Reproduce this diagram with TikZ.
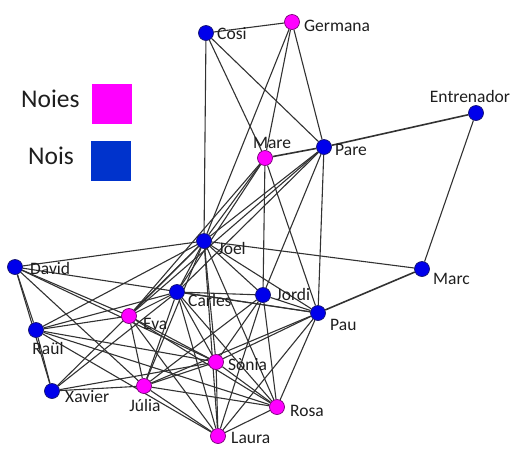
\documentclass[tikz,border=0pt]{standalone}
\usepackage{fontspec}
\setmainfont{Carlito}
\usetikzlibrary{backgrounds}
\definecolor{boy}{RGB}{0,0,235}
\definecolor{boyline}{RGB}{20,20,110}
\definecolor{girl}{RGB}{255,0,255}
\definecolor{girlline}{RGB}{120,0,120}
\definecolor{legblue}{RGB}{0,51,204}
\definecolor{edgecol}{RGB}{50,50,50}
\definecolor{txt}{RGB}{30,30,30}
\begin{document}
\begin{tikzpicture}[x=1pt,y=-1pt,
  person/.style={circle,inner sep=0pt,minimum size=15pt,line width=0.7pt},
  noi/.style={person,fill=boy,draw=boyline},
  noia/.style={person,fill=girl,draw=girlline},
  lbl/.style={text=txt,font=\fontsize{17.5}{20}\selectfont,inner sep=0pt},
  leg/.style={text=txt,font=\fontsize{25.5}{28}\selectfont,inner sep=0pt,anchor=base west},
  edge/.style={draw=edgecol,line width=1.1pt},
  strong/.style={edge,line width=1.6pt}]
\useasboundingbox (0,0) rectangle (515,448);
% legend
\node[leg] (tnoies) at (21,107) {Noies};
\node[fill=girl,minimum size=40pt,inner sep=0pt] (snoies) at (112,104) {};
\node[leg] (tnois) at (28,164) {Nois};
\node[fill=legblue,minimum size=40pt,inner sep=0pt] (snois) at (111,161) {};
% people
\node[noi]  (cosi) at (206,33) {};
\node[noia] (germana) at (292,22) {};
\node[noia] (mare) at (265,158) {};
\node[noi]  (pare) at (324,147) {};
\node[noi]  (entrenador) at (476,113) {};
\node[noi]  (joel) at (204,241) {};
\node[noi]  (david) at (15,267) {};
\node[noi]  (marc) at (422,269) {};
\node[noi]  (carles) at (177,292) {};
\node[noi]  (jordi) at (263,295) {};
\node[noi]  (pau) at (318,313) {};
\node[noia] (eva) at (129,316) {};
\node[noi]  (raul) at (36,330) {};
\node[noia] (sonia) at (216,362) {};
\node[noi]  (xavier) at (52,391) {};
\node[noia] (julia) at (144,386) {};
\node[noia] (rosa) at (277,407) {};
\node[noia] (laura) at (218,436) {};
% labels
\node[lbl,anchor=west] (lcosi) at (217,34) {Cosi};
\node[lbl,anchor=west] (lgermana) at (304,26) {Germana};
\node[lbl] (lmare) at (272,143) {Mare};
\node[lbl,anchor=west] (lpare) at (335,150) {Pare};
\node[lbl] (lentrenador) at (470,96) {Entrenador};
\node[lbl,anchor=west] (ljoel) at (218,248) {Joel};
\node[lbl,anchor=west] (ldavid) at (30,268) {David};
\node[lbl,anchor=west] (lmarc) at (433,279) {Marc};
\node[lbl,anchor=west] (lcarles) at (188,300) {Carles};
\node[lbl,anchor=west] (ljordi) at (276,294) {Jordi};
\node[lbl,anchor=west] (lpau) at (330,325) {Pau};
\node[lbl,anchor=west] (leva) at (143,324) {Eva};
\node[lbl] (lraul) at (48,348) {Raül};
\node[lbl,anchor=west] (lsonia) at (228,365) {Sònia};
\node[lbl,anchor=west] (lxavier) at (65,397) {Xavier};
\node[lbl] (ljulia) at (145,405) {Júlia};
\node[lbl,anchor=west] (lrosa) at (290,411) {Rosa};
\node[lbl,anchor=west] (llaura) at (231,438) {Laura};
\begin{scope}[on background layer]
\foreach \a/\b in {cosi/germana,cosi/joel,cosi/mare,cosi/pare,
  germana/mare,germana/pare,germana/joel,
  mare/joel,mare/carles,mare/jordi,mare/pau,mare/eva,
  pare/joel,pare/carles,pare/eva,pare/jordi,pare/pau,
  entrenador/marc,marc/joel,
  joel/david,joel/carles,joel/jordi,joel/pau,joel/eva,joel/raul,joel/xavier,
  joel/julia,joel/sonia,joel/laura,joel/rosa,
  david/raul,david/xavier,david/eva,david/julia,david/sonia,david/pau,
  raul/xavier,raul/carles,raul/eva,raul/sonia,raul/laura,raul/rosa,
  xavier/julia,xavier/carles,xavier/sonia,
  eva/carles,eva/julia,eva/sonia,eva/laura,eva/rosa,
  carles/jordi,carles/pau,carles/julia,carles/sonia,carles/laura,carles/rosa,
  jordi/pau,jordi/sonia,jordi/laura,jordi/rosa,jordi/julia,
  pau/sonia,pau/julia,pau/rosa,pau/laura,
  sonia/julia,sonia/rosa,sonia/laura,
  julia/laura,julia/rosa,rosa/laura}
  \draw[edge] (\a) -- (\b);
\foreach \a/\b in {mare/pare,pare/entrenador,marc/pau}
  \draw[strong] (\a) -- (\b);
\end{scope}
\end{tikzpicture}
\end{document}
